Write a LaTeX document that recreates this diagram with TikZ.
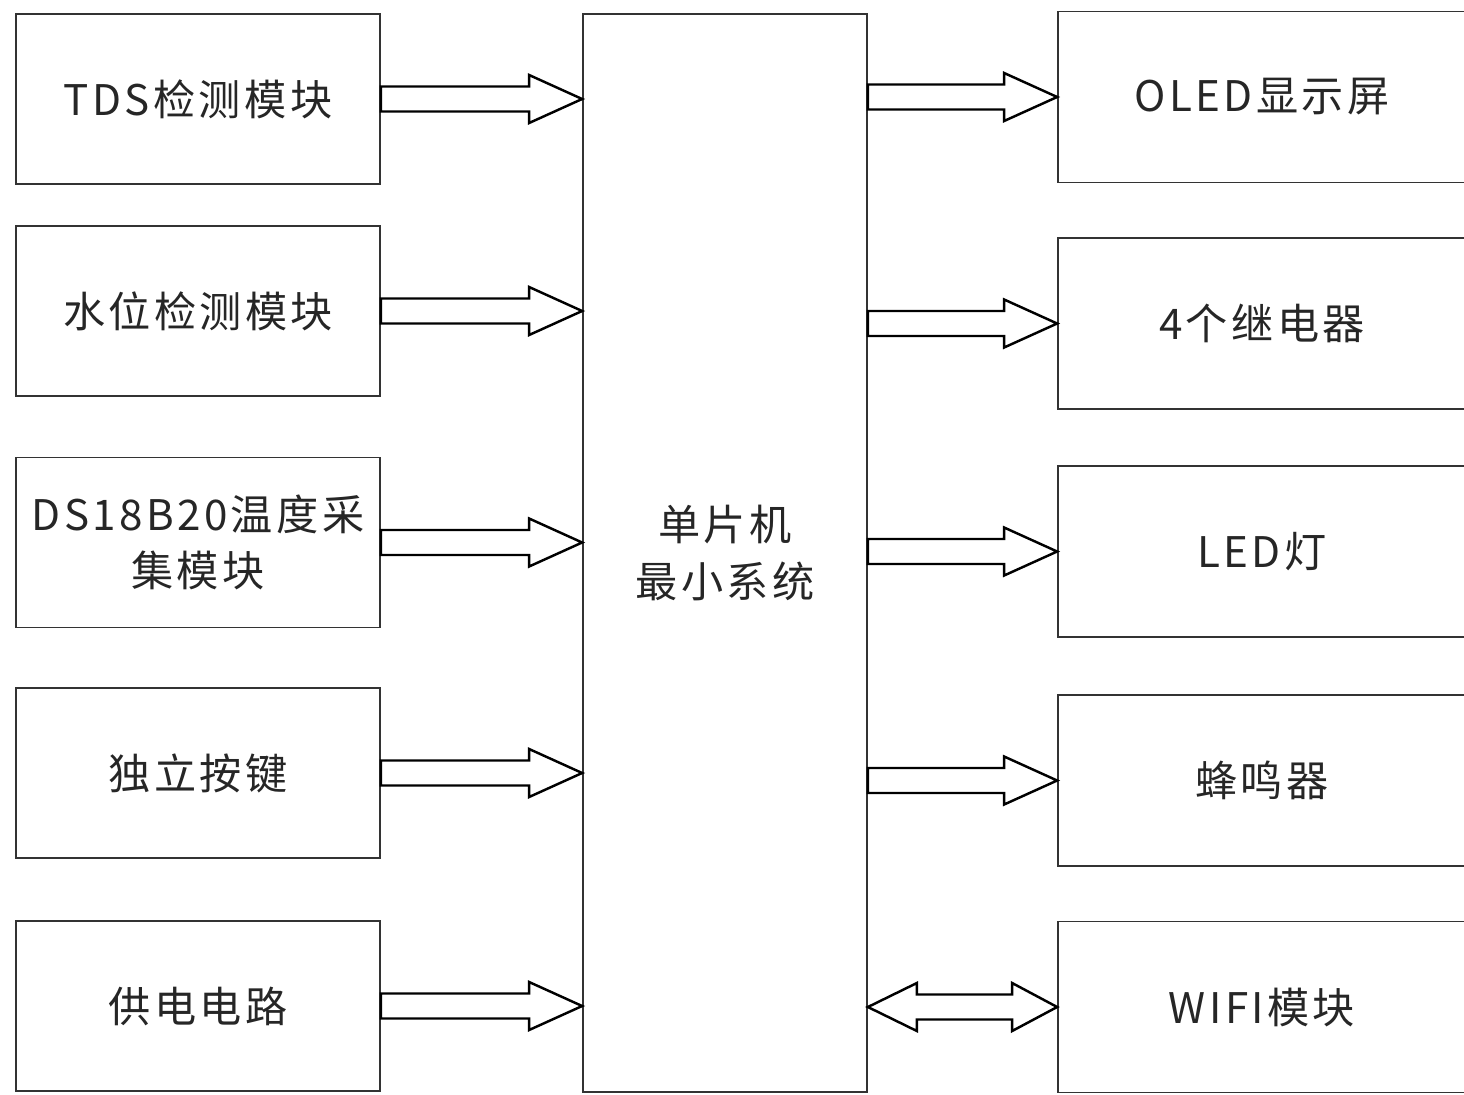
\documentclass[tikz,border=0pt]{standalone}
\usepackage{fontspec}
\setmainfont[LetterSpace=8]{Noto Sans CJK SC}
\usetikzlibrary{calc}

% hollow block arrow from a point to a node side
\newcommand{\blkarrow}[2]{%
\draw[blk] let \p1=(#1), \p2=(#2) in (\x1,\y1+0.25cm) -- (\x2-1.06cm,\y1+0.25cm) -- (\x2-1.06cm,\y1+0.48cm) -- (\x2,\y1) -- (\x2-1.06cm,\y1-0.48cm) -- (\x2-1.06cm,\y1-0.25cm) -- (\x1,\y1-0.25cm) -- cycle;}
\newcommand{\dblarrow}[2]{%
\draw[blk] let \p1=(#1), \p2=(#2) in (\x1,\y1) -- (\x1+0.98cm,\y1+0.48cm) -- (\x1+0.98cm,\y1+0.25cm) -- (\x2-0.9cm,\y1+0.25cm) -- (\x2-0.9cm,\y1+0.48cm) -- (\x2,\y1) -- (\x2-0.9cm,\y1-0.48cm) -- (\x2-0.9cm,\y1-0.25cm) -- (\x1+0.98cm,\y1-0.25cm) -- (\x1+0.98cm,\y1-0.48cm) -- cycle;}

\begin{document}
\begin{tikzpicture}[every node/.style={draw=black!80, line width=1pt, align=center, shape=rectangle, font=\fontsize{24}{32}\selectfont, text=black!85},
lbox/.style={minimum width=7.28cm, minimum height=3.4cm},
rbox/.style={minimum width=8.16cm, minimum height=3.42cm},
blk/.style={draw=black, line width=1.4pt, fill=white, line join=miter}]
\useasboundingbox (0,0) rectangle (29.28,-21.88);
\node[lbox] (tds) at (3.96,-1.98) {TDS检测模块};
\node[lbox] (water) at (3.96,-6.22) {水位检测模块};
\node[lbox] (temp) at (3.96,-10.85) {DS18B20温度采\\集模块};
\node[lbox] (key) at (3.96,-15.46) {独立按键};
\node[lbox] (power) at (3.96,-20.12) {供电电路};
\node[minimum width=5.68cm, minimum height=21.56cm] (mcu) at (14.5,-11.06) {单片机\\最小系统};
\node[rbox] (oled) at (25.24,-1.94) {OLED显示屏};
\node[rbox] (relay) at (25.24,-6.47) {4个继电器};
\node[rbox] (led) at (25.24,-11.03) {LED灯};
\node[rbox] (buzzer) at (25.24,-15.61) {蜂鸣器};
\node[rbox] (wifi) at (25.24,-20.14) {WIFI模块};
\foreach \m in {tds,water,temp,key,power}
  \blkarrow{\m.east}{mcu.west |- \m.east};
\foreach \m in {oled,relay,led,buzzer}
  \blkarrow{mcu.east |- \m.west}{\m.west};
\dblarrow{mcu.east |- wifi.west}{wifi.west};
\end{tikzpicture}
\end{document}
